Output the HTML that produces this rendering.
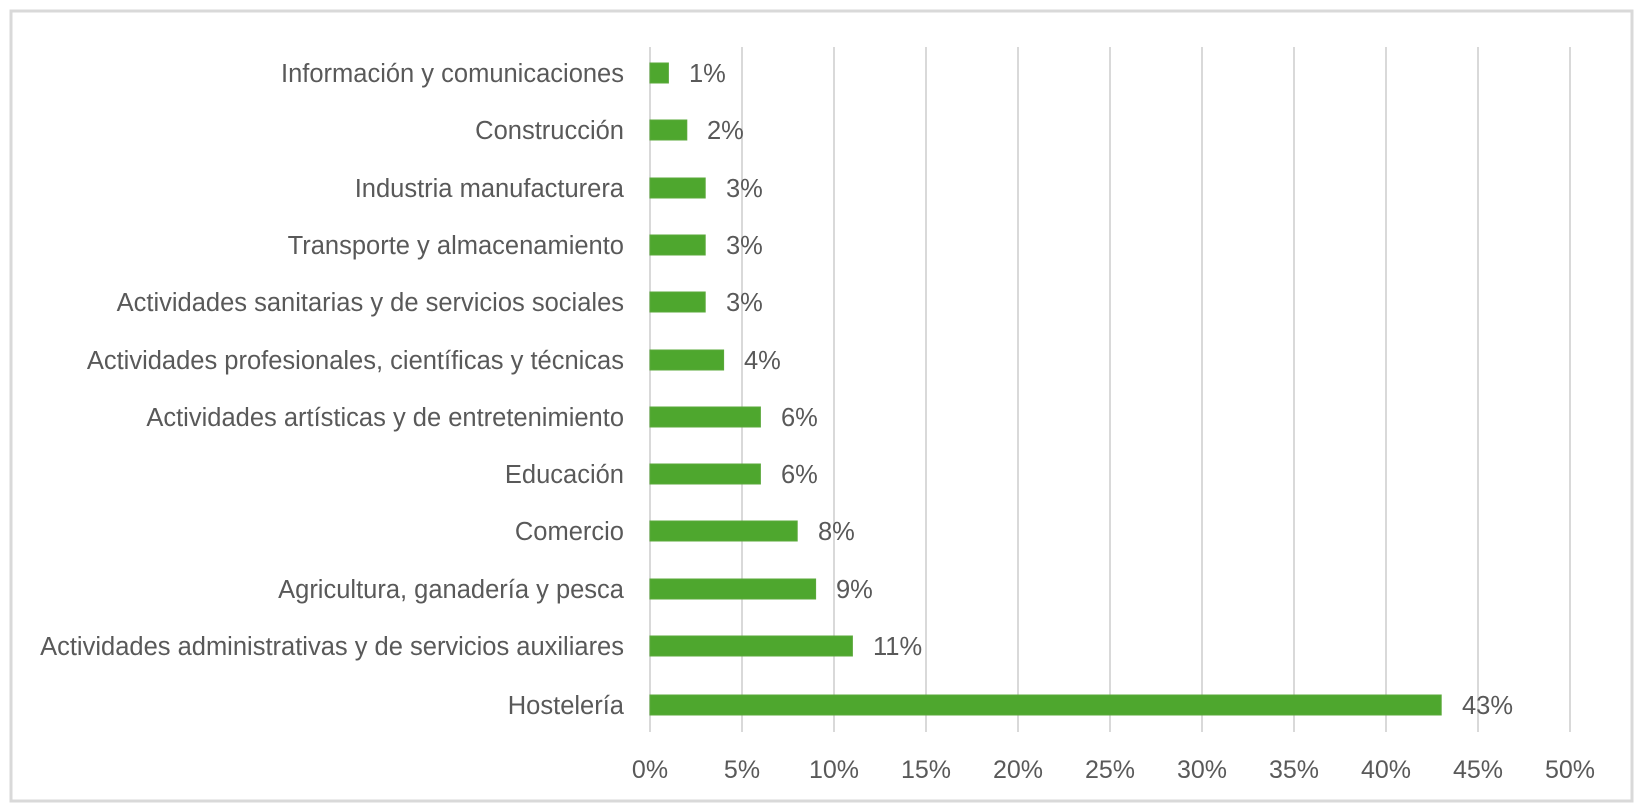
<!DOCTYPE html>
<html><head><meta charset="utf-8"><style>
html,body{margin:0;padding:0;background:#fff;}
svg{display:block;}
text{font-family:"Liberation Sans",sans-serif;fill:#595959;}
</style></head><body>
<svg width="1641" height="811" viewBox="0 0 1641 811">
<rect x="11" y="11" width="1621" height="790" fill="#fff" stroke="#d9d9d9" stroke-width="3"/>
<g stroke="#d9d9d9" stroke-width="2">
<line x1="650" y1="47" x2="650" y2="732"/>
<line x1="742" y1="47" x2="742" y2="732"/>
<line x1="834" y1="47" x2="834" y2="732"/>
<line x1="926" y1="47" x2="926" y2="732"/>
<line x1="1018" y1="47" x2="1018" y2="732"/>
<line x1="1110" y1="47" x2="1110" y2="732"/>
<line x1="1202" y1="47" x2="1202" y2="732"/>
<line x1="1294" y1="47" x2="1294" y2="732"/>
<line x1="1386" y1="47" x2="1386" y2="732"/>
<line x1="1478" y1="47" x2="1478" y2="732"/>
<line x1="1570" y1="47" x2="1570" y2="732"/>
</g>
<g font-size="25" text-anchor="middle">
<text x="650" y="778">0%</text><text x="742" y="778">5%</text><text x="834" y="778">10%</text>
<text x="926" y="778">15%</text><text x="1018" y="778">20%</text><text x="1110" y="778">25%</text>
<text x="1202" y="778">30%</text><text x="1294" y="778">35%</text><text x="1386" y="778">40%</text>
<text x="1478" y="778">45%</text><text x="1570" y="778">50%</text>
</g>
<g fill="#4ea72e" stroke="#5aa83a" stroke-width="1">
<rect x="650" y="63" width="18.4" height="20"/>
<rect x="650" y="120" width="36.8" height="20"/>
<rect x="650" y="178" width="55.2" height="20"/>
<rect x="650" y="235" width="55.2" height="20"/>
<rect x="650" y="292" width="55.2" height="20"/>
<rect x="650" y="350" width="73.6" height="20"/>
<rect x="650" y="407" width="110.4" height="20"/>
<rect x="650" y="464" width="110.4" height="20"/>
<rect x="650" y="521" width="147.2" height="20"/>
<rect x="650" y="579" width="165.6" height="20"/>
<rect x="650" y="636" width="202.4" height="20"/>
<rect x="650" y="695" width="791.2" height="20"/>
</g>
<g font-size="25.5" text-anchor="end">
<text x="624" y="82">Información y comunicaciones</text>
<text x="624" y="139">Construcción</text>
<text x="624" y="197">Industria manufacturera</text>
<text x="624" y="254">Transporte y almacenamiento</text>
<text x="624" y="311">Actividades sanitarias y de servicios sociales</text>
<text x="624" y="369">Actividades profesionales, científicas y técnicas</text>
<text x="624" y="426">Actividades artísticas y de entretenimiento</text>
<text x="624" y="483">Educación</text>
<text x="624" y="540">Comercio</text>
<text x="624" y="598">Agricultura, ganadería y pesca</text>
<text x="624" y="655">Actividades administrativas y de servicios auxiliares</text>
<text x="624" y="714">Hostelería</text>
</g>
<g font-size="25.5">
<text x="689" y="82">1%</text>
<text x="707" y="139">2%</text>
<text x="726" y="197">3%</text>
<text x="726" y="254">3%</text>
<text x="726" y="311">3%</text>
<text x="744" y="369">4%</text>
<text x="781" y="426">6%</text>
<text x="781" y="483">6%</text>
<text x="818" y="540">8%</text>
<text x="836" y="598">9%</text>
<text x="873" y="655">11%</text>
<text x="1462" y="714">43%</text>
</g>
</svg>
</body></html>
